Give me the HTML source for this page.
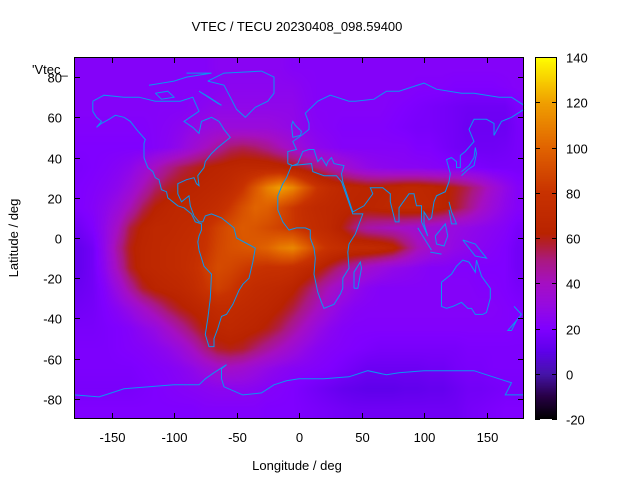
<!DOCTYPE html>
<html><head><meta charset="utf-8"><style>
body{margin:0;background:#fff;width:640px;height:480px;overflow:hidden;font-family:"Liberation Sans",sans-serif}
svg text{font-family:"Liberation Sans",sans-serif;font-size:13px;fill:#000}
#hm{position:absolute;left:74px;top:57px;width:450px;height:362px}
#cb{position:absolute;left:535px;top:57px;width:22px;height:362px}
#ov{position:absolute;left:0;top:0}
</style></head><body>
<canvas id="hm" width="450" height="362"></canvas>
<canvas id="cb" width="22" height="362"></canvas>
<svg id="ov" width="640" height="480">
<g id="coast" fill="none" stroke="#0a96f0" stroke-width="1"></g>
<rect x="74.5" y="57.5" width="449" height="361" fill="none" stroke="#000"/>
<rect x="535.5" y="57.5" width="21" height="361" fill="none" stroke="#000"/>
<g id="ticks"></g>
<text x="297" y="31" text-anchor="middle">VTEC / TECU 20230408_098.59400</text>
<text x="297" y="470" text-anchor="middle">Longitude / deg</text>
<text x="18" y="238" text-anchor="middle" transform="rotate(-90 18 238)">Latitude / deg</text>
<text x="32" y="74">'Vtec_</text>
</svg>
<script>
const lonCenters=[-175,-165,-155,-145,-135,-125,-115,-105,-95,-85,-75,-65,-55,-45,-35,-25,-15,-5,5,15,25,35,45,55,65,75,85,95,105,115,125,135,145,155,165,175];
const latCenters=[85,75,65,55,45,35,25,15,5,-5,-15,-25,-35,-45,-55,-65,-75,-85];
const vtec=[
[22,22,22,22,22,22,22,22,22,22,22,24,24,24,24,24,24,22,22,22,22,22,22,22,22,22,22,22,22,22,22,22,22,22,22,22],
[22,22,22,22,22,22,22,22,22,22,22,23,25,25,25,25,25,25,23,22,22,22,22,22,22,22,22,21,21,21,20,20,20,20,21,22],
[22,22,22,22,22,22,22,22,22,23,25,27,27,27,27,27,27,27,24,22,22,22,22,22,22,21,20,19,18,17,16,15,15,15,15,19],
[21,21,21,21,21,21,22,23,25,28,30,32,32,32,32,32,30,28,25,23,22,21,21,21,21,20,19,18,18,17,16,14,14,14,14,18],
[20,20,20,20,20,20,22,24,28,34,40,46,52,54,52,48,42,36,30,26,24,22,22,22,22,22,22,20,20,18,16,15,15,15,16,18],
[19,20,21,23,26,32,40,48,54,58,62,64,66,68,68,68,66,62,56,50,44,38,32,28,26,25,24,24,23,22,21,20,19,18,18,18],
[20,21,23,26,32,42,52,58,62,64,66,68,72,80,95,110,120,112,95,80,72,68,66,64,64,66,68,68,66,64,60,54,46,36,28,22],
[20,22,26,32,42,54,62,66,68,68,70,74,82,92,100,98,90,82,74,70,68,66,64,64,66,68,70,70,68,64,58,50,40,32,26,22],
[16,20,28,40,56,64,68,68,70,72,78,86,92,96,94,90,86,82,76,72,68,60,50,44,42,40,38,36,34,32,30,28,26,24,22,18],
[12,16,28,46,60,66,68,70,72,74,80,88,92,94,96,100,108,112,100,86,78,74,72,72,70,66,54,42,36,32,28,26,24,22,20,16],
[12,16,26,42,58,66,68,70,72,76,84,90,88,84,80,78,78,76,70,64,56,48,42,36,32,28,26,24,22,22,21,21,20,20,20,16],
[14,16,22,32,46,58,64,66,68,72,80,86,82,76,72,70,68,64,56,48,40,34,28,24,22,22,22,22,22,22,22,22,21,21,20,18],
[16,17,20,24,30,38,46,54,60,64,68,72,72,70,68,66,62,56,48,40,32,26,23,22,22,22,22,22,22,22,22,22,22,22,21,20],
[18,18,19,20,22,26,30,38,46,54,62,66,68,66,64,60,54,46,38,30,25,22,21,21,21,21,21,21,21,21,21,21,21,21,21,20],
[19,19,19,20,21,22,24,27,32,40,50,58,60,58,52,46,40,34,28,24,22,21,20,19,18,18,18,18,18,18,18,19,19,19,19,19],
[19,19,19,19,19,20,21,22,24,27,32,36,38,36,32,28,25,23,22,21,20,18,16,14,14,14,14,14,15,15,17,18,18,19,19,19],
[18,18,18,18,18,19,20,21,22,23,24,25,25,25,24,22,21,20,18,16,14,12,11,10,10,10,11,11,12,12,14,16,16,17,18,18],
[20,20,20,20,20,20,20,20,20,20,21,21,21,21,21,20,20,20,19,18,17,16,15,15,15,15,15,15,15,15,15,17,18,19,20,20]];
const cbTicks=[-20,0,20,40,60,80,100,120,140];
const xTicks=[-150,-100,-50,0,50,100,150];
const yTicks=[-80,-60,-40,-20,0,20,40,60,80];
const X0=74,X1=524,Y0=57,Y1=419;
const xs=lon=>X0+(lon+180)/360*(X1-X0);
const ys=lat=>Y0+(90-lat)/180*(Y1-Y0);
const cs=v=>Y1-(v+20)/160*(Y1-Y0);
const stops=[[-20,0,0,0],[-10,40,0,70],[0,70,20,170],[10,95,0,235],[20,128,0,255],[30,150,10,225],[40,165,15,195],[50,170,25,130],[57,178,30,50],[62,185,35,0],[80,200,50,0],[100,225,100,0],[120,240,160,0],[140,255,255,0]];
function col(v){if(v<=stops[0][0])return stops[0].slice(1);for(let i=1;i<stops.length;i++){if(v<=stops[i][0]){const a=stops[i-1],b=stops[i],t=(v-a[0])/(b[0]-a[0]);return [0,1,2].map(k=>Math.round(a[k+1]+t*(b[k+1]-a[k+1])));}}return stops[stops.length-1].slice(1);}
function sample(lon,lat){
 let fi=(lon+175)/10, fj=(85-lat)/10;
 fi=Math.max(0,Math.min(lonCenters.length-1,fi)); fj=Math.max(0,Math.min(latCenters.length-1,fj));
 const i0=Math.floor(fi),j0=Math.floor(fj),i1=Math.min(i0+1,lonCenters.length-1),j1=Math.min(j0+1,latCenters.length-1),ti=fi-i0,tj=fj-j0;
 return (vtec[j0][i0]*(1-ti)+vtec[j0][i1]*ti)*(1-tj)+(vtec[j1][i0]*(1-ti)+vtec[j1][i1]*ti)*tj;}
const hm=document.getElementById('hm').getContext('2d');
const img=hm.createImageData(450,362);
for(let y=0;y<362;y++)for(let x=0;x<450;x++){
 const lon=-180+(x+0.5)/450*360, lat=90-(y+0.5)/362*180;
 const c=col(sample(lon,lat)),p=(y*450+x)*4;img.data[p]=c[0];img.data[p+1]=c[1];img.data[p+2]=c[2];img.data[p+3]=255;}
hm.putImageData(img,0,0);
const cb=document.getElementById('cb').getContext('2d');
for(let y=0;y<362;y++){const v=140-(y+0.5)/362*160;const c=col(v);cb.fillStyle=`rgb(${c})`;cb.fillRect(0,y,22,1);}
const NS='http://www.w3.org/2000/svg';
const coasts=[
[[-165,68],[-156,71],[-140,70],[-128,70],[-115,68],[-95,68],[-85,70],[-80,63],[-92,58],[-85,55],[-80,52],[-78,58],[-70,60],[-64,58],[-60,54],[-55,50],[-65,45],[-70,42],[-75,38],[-76,35],[-81,31],[-80,26],[-82,27],[-84,30],[-90,29],[-97,27],[-97,22],[-94,18],[-88,21],[-87,16],[-84,11],[-80,8],[-77,8],[-75,11],[-70,12],[-62,10],[-52,5],[-50,0],[-44,-2],[-35,-5],[-37,-12],[-40,-20],[-45,-23],[-48,-26],[-53,-33],[-58,-38],[-62,-39],[-65,-45],[-68,-50],[-68,-54],[-72,-54],[-75,-48],[-73,-40],[-71,-30],[-70,-18],[-76,-14],[-80,-6],[-81,-2],[-80,1],[-78,4],[-78,7],[-83,8],[-86,12],[-92,15],[-97,16],[-105,20],[-106,23],[-110,24],[-112,29],[-115,30],[-117,33],[-121,35],[-124,40],[-124,47],[-123,49],[-130,54],[-135,58],[-140,60],[-147,61],[-152,59],[-158,57],[-162,55],[-158,58],[-162,60],[-165,63],[-165,68]],
[[-73,78],[-60,82],[-30,83],[-20,80],[-20,72],[-25,68],[-35,65],[-43,60],[-50,64],[-55,70],[-60,76],[-73,78]],
[[-120,76],[-100,78],[-90,80],[-70,82],[-90,82]],
[[-80,73],[-65,67],[-62,66],[-72,70],[-80,73]],
[[-115,72],[-105,73],[-100,70],[-110,69],[-115,72]],
[[-9,37],[-9,43],[-2,44],[-5,48],[2,51],[8,54],[8,57],[5,62],[15,68],[25,71],[40,68],[45,68],[60,69],[70,73],[80,73],[100,77],[110,74],[130,72],[140,72],[160,70],[170,70],[180,66]],
[[180,64],[170,60],[162,58],[156,51],[156,57],[150,59],[140,59],[136,54],[140,48],[133,43],[129,41],[129,35],[126,35],[126,38],[122,40],[118,39],[121,32],[120,28],[117,23],[110,21],[108,18],[106,10],[104,9],[100,13],[100,7],[103,1],[98,8],[98,16],[94,16],[92,22],[88,22],[80,15],[80,8],[77,8],[73,18],[73,22],[67,25],[57,25],[59,22],[52,16],[43,13],[35,28],[34,32],[36,36],[28,37],[26,40],[23,38],[22,36],[18,40],[15,38],[12,44],[8,44],[3,43],[-1,37],[-5,36],[-9,37]],
[[-6,36],[10,37],[11,33],[20,31],[30,31],[34,28],[43,12],[51,12],[45,2],[40,-3],[39,-7],[40,-15],[35,-20],[35,-25],[33,-28],[28,-33],[20,-35],[18,-32],[15,-27],[12,-18],[13,-10],[12,-5],[9,0],[9,4],[5,5],[-2,5],[-8,4],[-13,8],[-17,14],[-17,21],[-13,27],[-10,30],[-6,36]],
[[-5,50],[1,51],[2,53],[-3,56],[-5,58],[-6,56],[-5,50]],
[[114,-22],[114,-34],[118,-35],[123,-34],[130,-32],[135,-35],[138,-35],[141,-38],[147,-38],[150,-37],[153,-30],[153,-25],[146,-19],[142,-11],[141,-17],[136,-12],[131,-11],[126,-14],[122,-18],[114,-22]],
[[95,5],[106,-6]],[[105,-7],[114,-8]],
[[109,1],[117,7],[119,1],[116,-4],[110,-3],[109,1]],
[[131,-1],[141,-3],[150,-10],[141,-9],[131,-1]],
[[130,31],[135,34],[140,36],[142,42],[141,45],[140,40],[136,36],[130,33]],
[[44,-25],[47,-25],[50,-15],[49,-12],[44,-17],[44,-25]],
[[172,-34],[178,-38],[174,-41],[167,-46],[170,-46],[174,-41]],
[[120,18],[122,13],[126,7],[122,7],[120,14]],
[[-180,-78],[-160,-79],[-150,-77],[-140,-75],[-120,-74],[-100,-73],[-80,-73],[-75,-70],[-68,-67],[-58,-63],[-62,-65],[-62,-70],[-60,-74],[-45,-78],[-30,-77],[-20,-73],[-10,-71],[0,-70],[20,-70],[40,-69],[55,-66],[70,-68],[80,-67],[100,-66],[120,-66],[140,-66],[160,-70],[170,-72],[165,-78],[180,-78]]];
const cg=document.getElementById('coast');
coasts.forEach(l=>{const p=document.createElementNS(NS,'polyline');
p.setAttribute('points',l.map(q=>xs(q[0]).toFixed(1)+','+ys(q[1]).toFixed(1)).join(' '));


cg.appendChild(p);});
const tg=document.getElementById('ticks');
function line(x1,y1,x2,y2){const l=document.createElementNS(NS,'line');l.setAttribute('x1',x1);l.setAttribute('y1',y1);l.setAttribute('x2',x2);l.setAttribute('y2',y2);l.setAttribute('stroke','#000');


tg.appendChild(l);}
function text(x,y,s,anchor,name){const t=document.createElementNS(NS,'text');t.setAttribute('x',x);t.setAttribute('y',y);t.setAttribute('text-anchor',anchor);t.textContent=s;


tg.appendChild(t);}
xTicks.forEach(v=>{const x=Math.round(xs(v))+0.5;line(x,Y1,x,Y1-6);line(x,Y0,x,Y0+6);text(x,442,v,'middle','x-tick-label');});
yTicks.forEach(v=>{const y=Math.round(ys(v))+0.5;line(X0,y,X0+6,y);line(X1,y,X1-6,y);text(62,y+5,v,'end','y-tick-label');});
cbTicks.forEach(v=>{const y=Math.round(cs(v))+0.5;line(535,y,540,y);line(557,y,552,y);text(566,y+5,v,'start','colorbar-tick-label');});
</script>
</body></html>
